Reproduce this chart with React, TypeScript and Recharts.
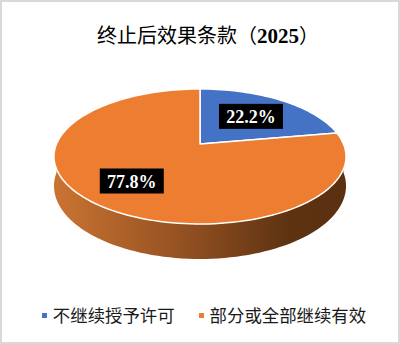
import { PieChart, Pie, Cell, Legend } from "recharts";

const categories = ["不继续授予许可", "部分或全部继续有效"];
const values = [22.2, 77.8];
const colors = ["#4472C4", "#ED7D31"];
const labelRadius = [0.6, 0.67];

const data = categories.map((name, i) => ({ name, value: values[i] }));

// fake 3D: project the flat pie onto a tilted disc with a little perspective
const RX = 143.5;
const RY = 65.2;
const PERSP = 0.185;
const DEPTH = 28.5;

function proj(cx: number, cy: number, angle: number, r = 1) {
  const a = (angle * Math.PI) / 180;
  const u = r * Math.cos(a);
  const v = r * Math.sin(a);
  const w = 1 + PERSP * v;
  return { x: cx + (RX * u) / w, y: cy - (RY * v) / w, w };
}

function arcPoints(cx: number, cy: number, from: number, to: number) {
  const n = Math.max(2, Math.ceil(Math.abs(to - from) / 2));
  const pts = [];
  for (let i = 0; i <= n; i++) pts.push(proj(cx, cy, from + ((to - from) * i) / n));
  return pts;
}

function Slice3D(props: any) {
  const { cx, cy, startAngle, endAngle, fill, index } = props;
  const lo = Math.min(startAngle, endAngle);
  const hi = Math.max(startAngle, endAngle);

  const top = arcPoints(cx, cy, startAngle, endAngle);
  const topPath =
    `M${cx},${cy} ` + top.map((p) => `L${p.x.toFixed(2)},${p.y.toFixed(2)}`).join(" ") + " Z";

  // visible side wall = part of the slice facing the viewer (sin < 0)
  const walls: string[] = [];
  for (let k = -2; k <= 2; k++) {
    const a = Math.max(lo, -180 + 360 * k);
    const b = Math.min(hi, 360 * k);
    if (b - a > 0.01) {
      const upper = arcPoints(cx, cy, a, b);
      const lower = upper
        .slice()
        .reverse()
        .map((p) => ({ x: p.x, y: p.y + DEPTH / p.w }));
      walls.push(
        "M" +
          upper.concat(lower).map((p) => `${p.x.toFixed(2)},${p.y.toFixed(2)}`).join(" L") +
          " Z"
      );
    }
  }
  const gid = `wall-${index}`;

  return (
    <g>
      <defs>
        <linearGradient id={gid} gradientUnits="userSpaceOnUse" x1={cx - RX * 1.02} y1={0} x2={cx + RX * 1.02} y2={0}>
          <stop offset="0" stopColor={index === 1 ? "#CB7432" : "#3A5FA8"} />
          <stop offset="0.45" stopColor={index === 1 ? "#925021" : "#2E4C86"} />
          <stop offset="0.8" stopColor={index === 1 ? "#5E3312" : "#1F3360"} />
          <stop offset="1" stopColor={index === 1 ? "#5A3010" : "#1C2F58"} />
        </linearGradient>
      </defs>
      {walls.map((d, i) => (
        <path key={i} d={d} fill={`url(#${gid})`} stroke="none" />
      ))}
      <path d={topPath} fill={fill} stroke="#fff" strokeWidth={1.5} strokeLinejoin="round" />
    </g>
  );
}

function renderLabel(props: any) {
  const { cx, cy, midAngle, percent, index } = props;
  const p = proj(cx, cy, midAngle, labelRadius[index] ?? 0.6);
  return (
    <g>
      <rect x={p.x - 32} y={p.y - 12.5} width={64} height={25} fill="#000" />
      <text
        x={p.x}
        y={p.y + 1}
        textAnchor="middle"
        dominantBaseline="central"
        fill="#fff"
        fontFamily="'Liberation Serif', 'Times New Roman', serif"
        fontWeight="bold"
        fontSize={18}
      >
        {`${(percent * 100).toFixed(1)}%`}
      </text>
    </g>
  );
}

function renderLegend() {
  return (
    <div style={{ display: "flex", justifyContent: "center", alignItems: "center", gap: 24, paddingLeft: 8 }}>
      {categories.map((name, i) => (
        <div key={name} style={{ display: "flex", alignItems: "center" }}>
          <span style={{ width: 5, height: 5, background: colors[i], marginRight: 6, marginTop: 1 }} />
          <span style={{ fontFamily: "'Noto Sans CJK SC', sans-serif", fontSize: 17.4, color: "#1a1a1a" }}>{name}</span>
        </div>
      ))}
    </div>
  );
}

export default function App() {
  return (
    <div
      style={{
        position: "relative",
        width: 400,
        height: 344,
        boxSizing: "border-box",
        border: "2px solid #D9D9D9",
        background: "#fff",
        overflow: "hidden",
      }}
    >
      <style>{`body{margin:0}`}</style>
      <div
        style={{
          position: "absolute",
          left: 6,
          top: 19,
          width: 400,
          textAlign: "center",
          fontSize: 20,
          lineHeight: "28px",
          color: "#000",
          fontFamily: "'Noto Sans CJK SC', sans-serif",
        }}
      >
        终止后效果条款（
        <span style={{ fontFamily: "'Liberation Serif', serif", fontWeight: "bold", fontSize: 21 }}>2025</span>）
      </div>
      <div style={{ position: "absolute", left: -2, top: -2 }}>
        <PieChart width={400} height={344} margin={{ top: 0, right: 0, bottom: 0, left: 0 }}>
          <Pie
            data={data}
            dataKey="value"
            nameKey="name"
            cx={200}
            cy={144}
            outerRadius={RX}
            startAngle={90}
            endAngle={-270}
            stroke="#fff"
            isAnimationActive={false}
            shape={Slice3D}
            activeShape={Slice3D}
            inactiveShape={Slice3D}
            label={renderLabel}
            labelLine={false}
          >
            {data.map((d, i) => (
              <Cell key={d.name} fill={colors[i]} />
            ))}
          </Pie>
          <Legend
            content={renderLegend}
            wrapperStyle={{ position: "absolute", top: 302, left: 0, width: 400 }}
          />
        </PieChart>
      </div>
    </div>
  );
}
